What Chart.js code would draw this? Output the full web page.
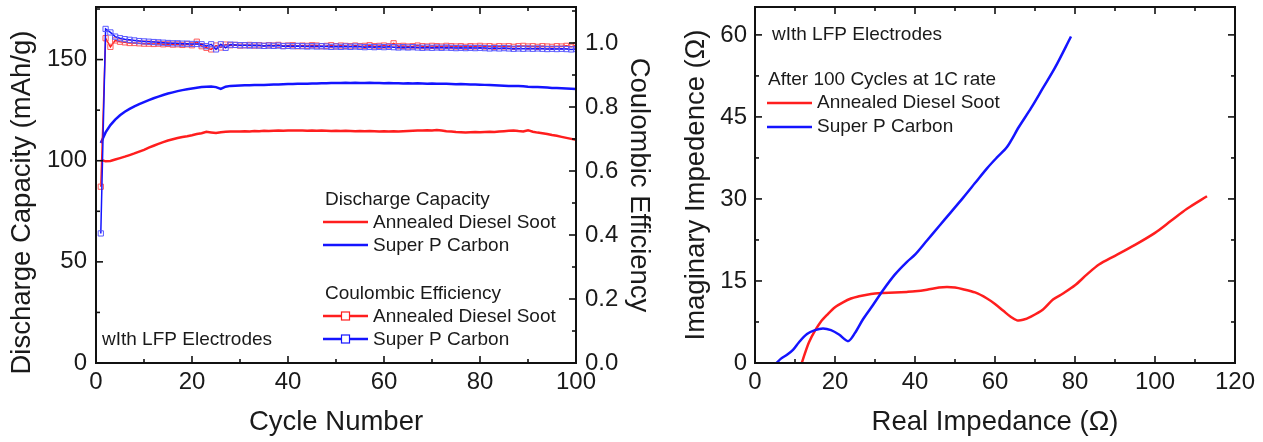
<!DOCTYPE html>
<html>
<head>
<meta charset="utf-8">
<script src="https://cdn.jsdelivr.net/npm/chart.js@4.4.0/dist/chart.umd.min.js"></script>
<style>
  body { margin: 0; background: #fff; }
  #wrap { position: relative; width: 1263px; height: 442px; }
  .box { position: absolute; top: 0; height: 442px; }
  #left { left: 0; width: 660px; }
  #right { left: 660px; width: 603px; }
</style>
</head>
<body>
<div id="wrap">
  <div class="box" id="left"><canvas id="capChart" width="660" height="442"></canvas></div>
  <div class="box" id="right"><canvas id="impChart" width="603" height="442"></canvas></div>
</div>
<script>
// cycle numbers 1..100
const cycles = Array.from({ length: 100 }, (_, i) => i + 1);

// discharge capacity (mAh/g)
const capSoot = [
  100.5, 99.7, 99.9, 100.6, 101.3, 102.0, 102.8, 103.6, 104.5, 105.4,
  106.5, 107.4, 108.3, 109.2, 110.0, 110.6, 111.2, 111.7, 112.1, 112.6,
  113.2, 113.6, 114.3, 114.0, 113.7, 114.1, 114.3, 114.5, 114.4, 114.5,
  114.6, 114.5, 114.7, 114.6, 114.8, 114.7, 114.8, 114.9, 114.8, 114.9,
  114.9, 115.0, 114.9, 114.8, 114.9, 114.8, 114.9, 114.8, 114.7, 114.8,
  114.7, 114.8, 114.7, 114.6, 114.7, 114.6, 114.7, 114.6, 114.5, 114.6,
  114.5, 114.6, 114.5, 114.6, 114.7, 114.8, 114.9, 115.0, 115.1, 115.0,
  115.2, 114.9, 114.6, 114.4, 114.2, 114.1, 114.0, 114.1, 114.2, 114.1,
  114.2, 114.3, 114.2, 114.4, 114.6, 114.8, 115.0, 114.7, 114.5, 115.1,
  114.3, 113.9, 113.6, 113.2, 112.7, 112.3, 111.8, 111.3, 110.8, 110.3
];
const capSuperP = [
  108.8, 114.0, 117.6, 120.3, 122.5, 124.2, 125.6, 126.9, 128.0, 129.0,
  130.0, 130.9, 131.7, 132.5, 133.2, 133.8, 134.4, 134.9, 135.3, 135.7,
  136.1, 136.4, 136.6, 136.7, 136.4, 135.5, 136.6, 137.0, 137.1, 137.2,
  137.3, 137.3, 137.4, 137.5, 137.5, 137.6, 137.7, 137.7, 137.8, 137.9,
  137.9, 138.0, 138.0, 138.1, 138.2, 138.2, 138.3, 138.3, 138.4, 138.4,
  138.4, 138.5, 138.4, 138.5, 138.4, 138.4, 138.5, 138.4, 138.4, 138.3,
  138.4, 138.3, 138.3, 138.2, 138.3, 138.2, 138.3, 138.2, 138.1, 138.2,
  138.1, 138.0, 138.0, 137.9, 137.8, 137.9, 137.8, 137.7, 137.7, 137.6,
  137.5, 137.4, 137.3, 137.2, 137.1, 137.0, 136.9, 136.9, 136.8, 136.6,
  136.5, 136.4, 136.3, 136.2, 136.0, 135.9, 135.8, 135.7, 135.6, 135.5
];

// coulombic efficiency
const ceSoot = [
  0.551, 1.015, 0.988, 1.008, 1.004, 1.002, 1.000, 1.000, 0.999, 0.998,
  0.998, 0.997, 0.998, 0.996, 0.997, 0.995, 0.996, 0.994, 0.996, 0.993,
  1.004, 0.990, 0.985, 0.980, 0.992, 0.986, 0.995, 0.993, 0.994, 0.992,
  0.993, 0.994, 0.992, 0.993, 0.991, 0.993, 0.992, 0.994, 0.991, 0.992,
  0.993, 0.990, 0.992, 0.991, 0.993, 0.992, 0.990, 0.991, 0.993, 0.990,
  0.992, 0.991, 0.990, 0.992, 0.990, 0.991, 0.993, 0.990, 0.991, 0.992,
  0.990, 0.999, 0.990, 0.991, 0.989, 0.990, 0.992, 0.990, 0.989, 0.991,
  0.990, 0.989, 0.991, 0.990, 0.989, 0.990, 0.988, 0.990, 0.989, 0.991,
  0.989, 0.990, 0.988, 0.990, 0.989, 0.990, 0.988, 0.990, 0.991, 0.989,
  0.990, 0.988, 0.990, 0.989, 0.988, 0.990, 0.989, 0.991, 0.988, 0.993
];
const ceSuperP = [
  0.405, 1.044, 1.033, 1.020, 1.015, 1.012, 1.010, 1.008, 1.006, 1.005,
  1.004, 1.003, 1.002, 1.001, 1.000, 0.999, 0.999, 0.998, 0.998, 0.997,
  0.997, 0.996, 0.990, 0.996, 0.980, 0.996, 0.985, 0.995, 0.994, 0.993,
  0.993, 0.992, 0.993, 0.992, 0.991, 0.992, 0.991, 0.992, 0.990, 0.991,
  0.990, 0.991, 0.990, 0.989, 0.990, 0.989, 0.990, 0.989, 0.988, 0.989,
  0.988, 0.989, 0.988, 0.989, 0.988, 0.987, 0.988, 0.987, 0.988, 0.987,
  0.988, 0.987, 0.986, 0.987, 0.986, 0.987, 0.986, 0.985, 0.986, 0.985,
  0.986, 0.985, 0.986, 0.985, 0.984, 0.985, 0.984, 0.985, 0.984, 0.985,
  0.984, 0.983, 0.984, 0.983, 0.984, 0.983, 0.982, 0.983, 0.982, 0.983,
  0.982, 0.983, 0.982, 0.981, 0.982, 0.981, 0.982, 0.981, 0.980, 0.981
];

// impedance spectra [real, imaginary] in ohm
const zSoot = [
  [11.7, 0], [12.5, 1.8], [13.5, 3.8], [15, 5.9], [16.5, 7.6], [18, 8.8], [20, 10.2],
  [22, 11.1], [24, 11.8], [26, 12.2], [28, 12.5], [30, 12.7], [32, 12.8], [35, 12.9],
  [38, 13.0], [40, 13.1], [43, 13.4], [46, 13.8], [48, 13.9], [50, 13.8], [52, 13.5],
  [55, 12.9], [58, 11.8], [60, 10.8], [62, 9.6], [64, 8.4], [65.5, 7.8], [67, 7.9],
  [69, 8.5], [72, 9.8], [74.5, 11.6], [77, 12.7], [80, 14.2], [83, 16.2], [86, 18.0],
  [90, 19.6], [95, 21.6], [100, 23.8], [104, 26.0], [108, 28.2], [113, 30.5]
];
const zSuperP = [
  [5.4, 0], [6.5, 0.8], [8, 1.5], [9.5, 2.4], [11, 3.8], [13, 5.3], [15, 6.0], [17, 6.3],
  [19, 6.0], [21, 5.2], [23.3, 4.0], [25, 5.5], [27, 8.0], [29.5, 10.6], [32, 13.3],
  [35, 16.2], [38, 18.5], [40, 19.8], [43, 22.4], [46, 25.0], [49, 27.6], [52, 30.2],
  [55, 32.9], [58, 35.6], [60.5, 37.6], [63, 39.5], [66, 43.2], [69, 46.6], [72, 50.3],
  [75, 54.0], [79, 59.7]
];

const RED = '#ff1e1e';
const BLUE = '#1414ff';
const TXT = '#1a1a1a';
const FONT = '"Liberation Sans", Arial, sans-serif';

Chart.defaults.font.family = FONT;
Chart.defaults.color = TXT;

// ticks pointing into the plot
function innerTicks(chart, id, side, major, minor) {
  const s = chart.scales[id];
  const a = chart.chartArea;
  const ctx = chart.ctx;
  const n = Math.round((s.max - s.min) / minor);
  ctx.save();
  ctx.strokeStyle = '#111';
  ctx.lineWidth = 1.6;
  for (let k = 0; k <= n; k++) {
    const v = s.min + k * minor;
    if (v > s.max + 1e-9) break;
    const isMajor = Math.abs(v / major - Math.round(v / major)) < 1e-6;
    const len = isMajor ? 7 : 4;
    const p = s.getPixelForValue(v);
    ctx.beginPath();
    if (side === 'bottom') { ctx.moveTo(p, a.bottom); ctx.lineTo(p, a.bottom - len); }
    if (side === 'top') { ctx.moveTo(p, a.top); ctx.lineTo(p, a.top + len); }
    if (side === 'left') { ctx.moveTo(a.left, p); ctx.lineTo(a.left + len, p); }
    if (side === 'right') { ctx.moveTo(a.right, p); ctx.lineTo(a.right - len, p); }
    ctx.stroke();
  }
  ctx.restore();
}

function frame(chart) {
  const a = chart.chartArea;
  const ctx = chart.ctx;
  ctx.save();
  ctx.strokeStyle = '#111';
  ctx.lineWidth = 2;
  ctx.strokeRect(a.left, a.top, a.right - a.left, a.bottom - a.top);
  ctx.restore();
}

function legendText(ctx, txt, x, y) {
  ctx.font = '19px ' + FONT;
  ctx.fillStyle = TXT;
  ctx.textBaseline = 'middle';
  ctx.textAlign = 'left';
  ctx.fillText(txt, x, y);
}

function legendLine(ctx, x1, x2, y, color, square) {
  ctx.save();
  ctx.strokeStyle = color;
  ctx.lineWidth = 2.5;
  ctx.beginPath();
  ctx.moveTo(x1, y);
  ctx.lineTo(x2, y);
  ctx.stroke();
  if (square) {
    const c = (x1 + x2) / 2;
    ctx.fillStyle = '#fff';
    ctx.fillRect(c - 4, y - 4, 8, 8);
    ctx.lineWidth = 1.2;
    ctx.strokeRect(c - 4, y - 4, 8, 8);
  }
  ctx.restore();
}

const capDecor = {
  id: 'capDecor',
  afterDatasetsDraw(chart) {
    frame(chart);
    innerTicks(chart, 'x', 'bottom', 20, 10);
    innerTicks(chart, 'x', 'top', 20, 10);
    innerTicks(chart, 'y', 'left', 50, 25);
    innerTicks(chart, 'y1', 'right', 0.2, 0.1);
    const ctx = chart.ctx;
    legendText(ctx, 'Discharge Capacity', 325, 200);
    legendLine(ctx, 323, 368, 222, RED, false);
    legendText(ctx, 'Annealed Diesel Soot', 373, 223);
    legendLine(ctx, 323, 368, 245, BLUE, false);
    legendText(ctx, 'Super P Carbon', 373, 246);
    legendText(ctx, 'Coulombic Efficiency', 325, 294);
    legendLine(ctx, 323, 368, 316, RED, true);
    legendText(ctx, 'Annealed Diesel Soot', 373, 317);
    legendLine(ctx, 323, 368, 339, BLUE, true);
    legendText(ctx, 'Super P Carbon', 373, 340);
    legendText(ctx, 'wIth LFP Electrodes', 102, 340);
  }
};

const impDecor = {
  id: 'impDecor',
  afterDatasetsDraw(chart) {
    frame(chart);
    innerTicks(chart, 'x', 'bottom', 20, 10);
    innerTicks(chart, 'x', 'top', 20, 10);
    innerTicks(chart, 'y', 'left', 15, 7.5);
    innerTicks(chart, 'y', 'right', 15, 7.5);
    const ctx = chart.ctx;
    legendText(ctx, 'wIth LFP Electrodes', 112, 35);
    legendText(ctx, 'After 100 Cycles at 1C rate', 108, 80);
    legendLine(ctx, 107, 152, 103, RED, false);
    legendText(ctx, 'Annealed Diesel Soot', 157, 103);
    legendLine(ctx, 107, 152, 127, BLUE, false);
    legendText(ctx, 'Super P Carbon', 157, 127);
  }
};

const tickFont = { size: 24 };
const titleFont = { size: 27.5 };

// fix the axis boxes so the plot areas land where the reference has them
function fixV(w) {
  return (s) => { s.width = w; s.paddingTop = 0; s.paddingBottom = 0; };
}
function fixH(h) {
  return (s) => { s.height = h; s.paddingLeft = 0; s.paddingRight = 0; };
}

new Chart(document.getElementById('capChart'), {
  type: 'line',
  data: {
    datasets: [
      {
        label: 'CE Super P Carbon', yAxisID: 'y1', order: 0,
        data: cycles.map((c, i) => ({ x: c, y: ceSuperP[i] })),
        borderColor: BLUE, borderWidth: 1.5, pointStyle: 'rect', pointRadius: 3.7,
        pointBorderWidth: 1, pointBorderColor: '#5a5aff', pointBackgroundColor: 'rgba(255,255,255,0)'
      },
      {
        label: 'CE Annealed Diesel Soot', yAxisID: 'y1', order: 1,
        data: cycles.map((c, i) => ({ x: c, y: ceSoot[i] })),
        borderColor: RED, borderWidth: 1.5, pointStyle: 'rect', pointRadius: 3.7,
        pointBorderWidth: 1, pointBorderColor: '#ff5a5a', pointBackgroundColor: 'rgba(255,255,255,0)'
      },
      {
        label: 'Super P Carbon', yAxisID: 'y', order: 2,
        data: cycles.map((c, i) => ({ x: c, y: capSuperP[i] })),
        borderColor: BLUE, borderWidth: 2.5, pointRadius: 0
      },
      {
        label: 'Annealed Diesel Soot', yAxisID: 'y', order: 3,
        data: cycles.map((c, i) => ({ x: c, y: capSoot[i] })),
        borderColor: RED, borderWidth: 2.5, pointRadius: 0
      }
    ]
  },
  options: {
    responsive: false,
    animation: false,
    layout: { padding: { top: 7, left: 0, right: 0, bottom: 0 } },
    plugins: { legend: { display: false }, tooltip: { enabled: false } },
    scales: {
      x: {
        type: 'linear', min: 0, max: 100,
        grid: { display: false, drawTicks: false }, border: { display: false },
        ticks: { stepSize: 20, font: tickFont, color: TXT, padding: 5, maxRotation: 0 },
        title: { display: true, text: 'Cycle Number', font: titleFont, color: TXT, padding: { top: 0, bottom: 3 } },
        afterFit: fixH(79)
      },
      y: {
        position: 'left', min: 0, max: 176,
        grid: { display: false, drawTicks: false }, border: { display: false },
        ticks: { stepSize: 50, font: tickFont, color: TXT, padding: 9, includeBounds: false },
        // trailing spaces push the rotated title a little lower, as in the original
        title: { display: true, text: 'Discharge Capacity (mAh/g)\u2003 ', font: titleFont, color: TXT, padding: { top: 6, bottom: 0 } },
        afterFit: fixV(96)
      },
      y1: {
        position: 'right', min: 0, max: 1.1125,
        grid: { display: false, drawTicks: false }, border: { display: false },
        ticks: { stepSize: 0.2, font: tickFont, color: TXT, padding: 9, includeBounds: false,
                 callback: (v) => Number(v).toFixed(1) },
        title: { display: true, text: 'Coulombic Efficiency', font: titleFont, color: TXT, padding: { top: 5, bottom: 0 } },
        afterFit: fixV(84)
      }
    }
  },
  plugins: [capDecor]
});

new Chart(document.getElementById('impChart'), {
  type: 'scatter',
  data: {
    datasets: [
      {
        label: 'Super P Carbon', data: zSuperP.map(p => ({ x: p[0], y: p[1] })),
        showLine: true, borderColor: BLUE, borderWidth: 2.5, pointRadius: 0, tension: 0.3
      },
      {
        label: 'Annealed Diesel Soot', data: zSoot.map(p => ({ x: p[0], y: p[1] })),
        showLine: true, borderColor: RED, borderWidth: 2.5, pointRadius: 0, tension: 0.3
      }
    ]
  },
  options: {
    responsive: false,
    animation: false,
    layout: { padding: { top: 7, left: 0, right: 28, bottom: 0 } },
    plugins: { legend: { display: false }, tooltip: { enabled: false } },
    scales: {
      x: {
        type: 'linear', min: 0, max: 120,
        grid: { display: false, drawTicks: false }, border: { display: false },
        ticks: { stepSize: 20, font: tickFont, color: TXT, padding: 5, maxRotation: 0 },
        title: { display: true, text: 'Real Impedance (\u03A9)', font: titleFont, color: TXT, padding: { top: 0, bottom: 3 } },
        afterFit: fixH(79)
      },
      y: {
        type: 'linear', min: 0, max: 65.1,
        grid: { display: false, drawTicks: false }, border: { display: false },
        ticks: { stepSize: 15, font: tickFont, color: TXT, padding: 8, includeBounds: false },
        title: { display: true, text: 'Imaginary Impedence (\u03A9)', font: titleFont, color: TXT, padding: { top: 20, bottom: 0 } },
        afterFit: fixV(95)
      }
    }
  },
  plugins: [impDecor]
});
</script>
</body>
</html>
